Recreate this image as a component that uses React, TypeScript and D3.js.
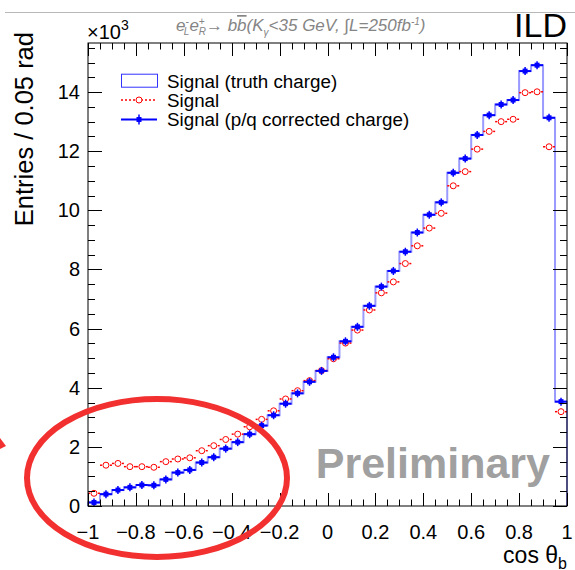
import React, { useEffect, useRef } from 'react';
import * as d3 from 'd3';

// 40 bins of 0.05 in cos(theta_b), values in units of 10^3 entries
const binLow: number[] = d3.range(40).map(i => -1 + i * 0.05);

const truthCharge: number[] = [
  0.12, 0.40, 0.54, 0.63, 0.71, 0.70, 0.90, 1.13, 1.22, 1.47,
  1.65, 1.94, 2.16, 2.43, 2.72, 3.07, 3.46, 3.81, 4.20, 4.57,
  5.03, 5.57, 6.06, 6.77, 7.42, 7.95, 8.60, 9.25, 9.85, 10.27,
  11.27, 11.75, 12.55, 13.22, 13.58, 13.73, 14.71, 14.91, 13.13, 3.53,
];

const correctedCharge: number[] = [
  0.12, 0.40, 0.54, 0.63, 0.71, 0.70, 0.90, 1.13, 1.22, 1.47,
  1.65, 1.94, 2.16, 2.43, 2.72, 3.07, 3.46, 3.81, 4.20, 4.57,
  5.03, 5.57, 6.06, 6.77, 7.42, 7.95, 8.60, 9.25, 9.85, 10.27,
  11.27, 11.75, 12.55, 13.22, 13.58, 13.73, 14.71, 14.91, 13.13, 3.53,
];

const signal: number[] = [
  0.43, 1.38, 1.44, 1.33, 1.33, 1.31, 1.50, 1.59, 1.63, 1.87,
  2.04, 2.25, 2.43, 2.68, 2.93, 3.22, 3.62, 3.90, 4.24, 4.58,
  4.98, 5.51, 5.95, 6.63, 7.21, 7.58, 8.20, 8.80, 9.40, 9.90,
  10.83, 11.31, 12.07, 12.67, 13.00, 13.08, 13.98, 14.01, 12.15, 3.19,
];

const xTicks: number[] = [-1, -0.8, -0.6, -0.4, -0.2, 0, 0.2, 0.4, 0.6, 0.8, 1];
const yTicks: number[] = [0, 2, 4, 6, 8, 10, 12, 14];

const legendLabels: string[] = ['Signal (truth charge)', 'Signal', 'Signal (p/q corrected charge)'];

const BIN_W = 0.05;
const FONT = '"Liberation Sans", Arial, Helvetica, sans-serif';

const App: React.FC = () => {
  const ref = useRef<SVGSVGElement | null>(null);

  useEffect(() => {
    const svg = d3.select(ref.current);
    svg.selectAll('*').remove();

    const x = d3.scaleLinear().domain([-1, 1]).range([88, 567]);
    const y = d3.scaleLinear().domain([0, 15.66]).range([506, 43]);
    const [x0, x1] = x.range();
    const [y0, y1] = y.range();

    svg.append('rect').attr('width', 575).attr('height', 570).attr('fill', 'white');

    // thin grey line at the very top
    svg.append('line')
      .attr('x1', 5).attr('x2', 575).attr('y1', 12.5).attr('y2', 12.5)
      .attr('stroke', '#b8b8b8').attr('stroke-width', 1);

    const plot = svg.append('g');

    // truth charge histogram (light blue step line)
    const stepPts: [number, number][] = [[binLow[0], 0]];
    truthCharge.forEach((v, i) => {
      stepPts.push([binLow[i], v]);
      stepPts.push([binLow[i] + BIN_W, v]);
    });
    stepPts.push([1, 0]);
    const line = d3.line<[number, number]>().x(d => x(d[0])).y(d => y(d[1]));
    plot.append('path')
      .attr('d', line(stepPts)!)
      .attr('fill', 'none')
      .attr('stroke', '#9a9aff')
      .attr('stroke-width', 2);

    // Signal (red, dotted bars, open circles)
    const red = plot.append('g');
    signal.forEach((v, i) => {
      const cx = x(binLow[i] + BIN_W / 2);
      const cy = y(v);
      red.append('line')
        .attr('x1', x(binLow[i])).attr('x2', cx - 4)
        .attr('y1', cy).attr('y2', cy)
        .attr('stroke', '#ff0000').attr('stroke-width', 1.5).attr('stroke-dasharray', '2,2');
      red.append('line')
        .attr('x1', cx + 4).attr('x2', x(binLow[i] + BIN_W))
        .attr('y1', cy).attr('y2', cy)
        .attr('stroke', '#ff0000').attr('stroke-width', 1.5).attr('stroke-dasharray', '2,2');
      red.append('circle')
        .attr('cx', cx).attr('cy', cy).attr('r', 3)
        .attr('fill', 'white').attr('stroke', '#ff0000').attr('stroke-width', 1);
    });

    // p/q corrected (dark blue bars with markers)
    const blue = plot.append('g');
    correctedCharge.forEach((v, i) => {
      const cx = x(binLow[i] + BIN_W / 2);
      const cy = y(v);
      blue.append('line')
        .attr('x1', x(binLow[i])).attr('x2', x(binLow[i] + BIN_W))
        .attr('y1', cy).attr('y2', cy)
        .attr('stroke', '#0000ff').attr('stroke-width', 2);
      blue.append('line')
        .attr('x1', cx).attr('x2', cx)
        .attr('y1', cy - 4).attr('y2', cy + 4)
        .attr('stroke', '#0000ff').attr('stroke-width', 1.5);
      blue.append('rect')
        .attr('x', cx - 2.5).attr('y', cy - 2.5).attr('width', 5).attr('height', 5)
        .attr('fill', '#0000ff');
    });

    // frame
    svg.append('rect')
      .attr('x', x0).attr('y', y1).attr('width', x1 - x0).attr('height', y0 - y1)
      .attr('fill', 'none').attr('stroke', 'black').attr('stroke-width', 1);

    // ticks on all four sides
    const ticks = svg.append('g').attr('stroke', 'black').attr('stroke-width', 1);
    const xMinor = d3.range(-1, 1.0001, 0.05);
    xMinor.forEach(t => {
      const isMajor = xTicks.some(m => Math.abs(m - t) < 1e-6);
      const len = isMajor ? 13 : 6.5;
      const px = Math.round(x(t)) + 0.5;
      ticks.append('line').attr('x1', px).attr('x2', px).attr('y1', y0).attr('y2', y0 - len);
      ticks.append('line').attr('x1', px).attr('x2', px).attr('y1', y1).attr('y2', y1 + len);
    });
    const yMinor = d3.range(0, 15.5001, 0.5);
    yMinor.forEach(t => {
      const isMajor = yTicks.some(m => Math.abs(m - t) < 1e-6);
      const len = isMajor ? 14 : 7;
      const py = Math.round(y(t)) + 0.5;
      ticks.append('line').attr('x1', x0).attr('x2', x0 + len).attr('y1', py).attr('y2', py);
      ticks.append('line').attr('x1', x1).attr('x2', x1 - len).attr('y1', py).attr('y2', py);
    });

    // tick labels
    const fmt = (d: number) => (d === 0 ? '0' : d3.format('.1~f')(d).replace('-', '\u2212'));
    svg.append('g').selectAll('text')
      .data(xTicks).enter().append('text')
      .attr('x', d => x(d)).attr('y', 539)
      .attr('text-anchor', 'middle')
      .attr('font-family', FONT).attr('font-size', 20)
      .text(d => fmt(d));
    svg.append('g').selectAll('text')
      .data(yTicks).enter().append('text')
      .attr('x', 80).attr('y', d => y(d) + 7)
      .attr('text-anchor', 'end')
      .attr('font-family', FONT).attr('font-size', 20)
      .text(d => String(d));

    // axis titles
    svg.append('text')
      .attr('transform', 'translate(33,32) rotate(-90)')
      .attr('text-anchor', 'end')
      .attr('font-family', FONT).attr('font-size', 25.5)
      .text('Entries / 0.05 rad');
    const xt = svg.append('text')
      .attr('x', 567).attr('y', 563)
      .attr('text-anchor', 'end')
      .attr('font-family', FONT).attr('font-size', 23);
    xt.append('tspan').text('cos \u03b8');
    xt.append('tspan').attr('font-size', 16).attr('dy', 6).text('b');

    // x10^3
    const mult = svg.append('text')
      .attr('x', 87).attr('y', 39)
      .attr('font-family', FONT).attr('font-size', 20);
    mult.append('tspan').text('\u00d710');
    mult.append('tspan').attr('font-size', 14).attr('dy', -9).text('3');

    // process title
    const title = svg.append('text')
      .attr('x', 176).attr('y', 31)
      .attr('font-family', FONT).attr('font-size', 17)
      .attr('font-style', 'italic').attr('fill', '#858585');
    title.append('tspan').text('e');
    title.append('tspan').attr('font-size', 10).attr('dy', -6).text('-');
    title.append('tspan').attr('font-size', 10).attr('dx', -5).attr('dy', 10).text('L');
    title.append('tspan').attr('dy', -4).text('e');
    title.append('tspan').attr('font-size', 10).attr('dy', -6).text('+');
    title.append('tspan').attr('font-size', 10).attr('dx', -6).attr('dy', 10).text('R');
    title.append('tspan').attr('dy', -4).text('\u2192 b');
    title.append('tspan').attr('text-decoration', 'overline').text('b');
    title.append('tspan').text('(K');
    title.append('tspan').attr('font-size', 10).attr('dy', 5).text('\u03b3');
    title.append('tspan').attr('dy', -5).text('<35 GeV, \u222bL=250fb');
    title.append('tspan').attr('font-size', 10).attr('dy', -6).text('-1');
    title.append('tspan').attr('dy', 6).text(')');

    // ILD
    svg.append('text')
      .attr('x', 567).attr('y', 37)
      .attr('text-anchor', 'end')
      .attr('font-family', FONT).attr('font-size', 34)
      .text('ILD');

    // Preliminary
    svg.append('text')
      .attr('x', 550).attr('y', 478)
      .attr('text-anchor', 'end')
      .attr('font-family', FONT).attr('font-size', 43).attr('font-weight', 'bold')
      .attr('fill', '#a0a0a0')
      .text('Preliminary');

    // legend
    const lg = svg.append('g');
    const rowY = [80.7, 100, 119.5];
    lg.append('rect')
      .attr('x', 121.5).attr('y', rowY[0] - 6.5).attr('width', 36).attr('height', 13)
      .attr('fill', 'white').attr('stroke', '#3333ff').attr('stroke-width', 1);
    lg.append('line')
      .attr('x1', 121).attr('x2', 156).attr('y1', rowY[1]).attr('y2', rowY[1])
      .attr('stroke', '#ff0000').attr('stroke-width', 1.5).attr('stroke-dasharray', '2,2');
    lg.append('circle')
      .attr('cx', 139).attr('cy', rowY[1]).attr('r', 3)
      .attr('fill', 'white').attr('stroke', '#ff0000');
    lg.append('line')
      .attr('x1', 121).attr('x2', 157).attr('y1', rowY[2]).attr('y2', rowY[2])
      .attr('stroke', '#0000ff').attr('stroke-width', 2);
    lg.append('line')
      .attr('x1', 139).attr('x2', 139).attr('y1', rowY[2] - 5).attr('y2', rowY[2] + 5)
      .attr('stroke', '#0000ff').attr('stroke-width', 1.5);
    lg.append('rect')
      .attr('x', 136.5).attr('y', rowY[2] - 2.5).attr('width', 5).attr('height', 5)
      .attr('fill', '#0000ff');
    lg.selectAll('text.leg')
      .data(legendLabels).enter().append('text')
      .attr('class', 'leg')
      .attr('x', 167).attr('y', (d, i) => rowY[i] + 6.8)
      .attr('font-family', FONT).attr('font-size', 18.8)
      .text(d => d);

    // red hand-drawn ellipse annotation
    svg.append('ellipse')
      .attr('cx', 157).attr('cy', 478).attr('rx', 130).attr('ry', 79)
      .attr('fill', 'none').attr('stroke', '#f23030').attr('stroke-width', 6);
    svg.append('path')
      .attr('d', 'M0,438 L6,446 L0,449 Z')
      .attr('fill', '#f23030');
  }, []);

  return (
    <svg
      ref={ref}
      width={575}
      height={570}
      style={{ position: 'absolute', left: 0, top: 0, display: 'block' }}
    />
  );
};

export default App;
